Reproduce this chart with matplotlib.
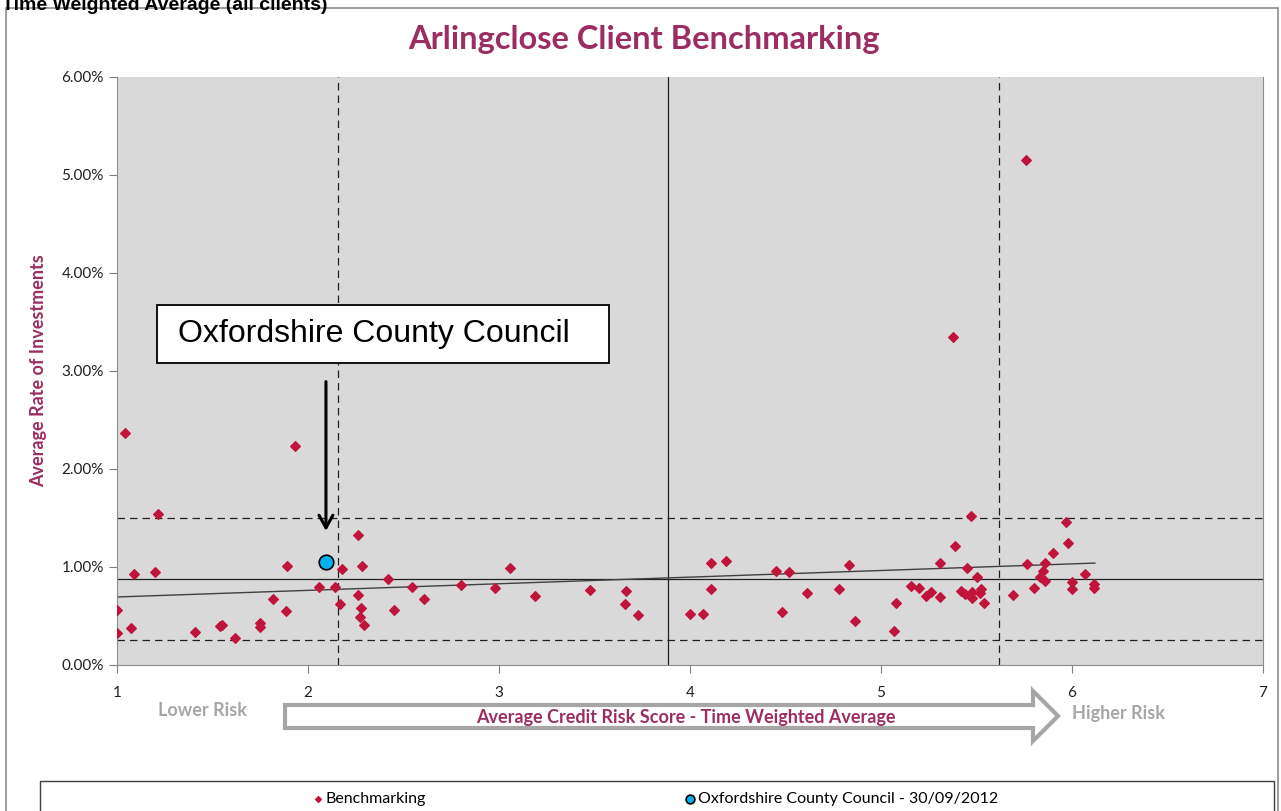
import matplotlib
matplotlib.use('Agg')
import matplotlib.pyplot as plt
from matplotlib.patches import Polygon, Rectangle
from matplotlib.ticker import PercentFormatter

# ── Data ───────────────────────────────────────────────────────────────
bench_x = [1.04, 1.93, 1.215, 2.26, 1.89, 2.18, 2.285, 1.09, 1.20, 2.42,
           2.056, 2.14, 2.26, 1.817, 2.17, 1.00, 1.886, 2.45, 2.277, 2.27,
           2.295, 1.00, 1.073, 1.41, 1.54, 1.55, 1.75, 1.75, 1.62,
           2.546, 2.607, 2.80, 2.977, 3.06, 3.19, 3.476, 3.667, 3.66, 3.73,
           4.00, 4.07, 4.11, 4.11, 4.19, 4.45, 4.48, 4.52, 4.61, 4.78, 4.83,
           4.865, 5.066, 5.078, 5.157, 5.20, 5.233, 5.26, 5.31, 5.31, 5.39,
           5.45, 5.47, 5.42, 5.44, 5.475, 5.475, 5.50, 5.525, 5.52, 5.54,
           5.69, 5.764, 5.80, 5.83, 5.846, 5.86, 5.86, 5.90, 5.97, 5.98,
           6.00, 6.00, 6.07, 6.115, 6.115, 5.76, 5.375]
bench_y = [2.37, 2.23, 1.54, 1.33, 1.01, 0.98, 1.01, 0.93, 0.945, 0.88,
           0.80, 0.80, 0.71, 0.67, 0.62, 0.565, 0.55, 0.565, 0.58, 0.487,
           0.41, 0.33, 0.38, 0.34, 0.40, 0.405, 0.43, 0.385, 0.28,
           0.80, 0.67, 0.82, 0.79, 0.99, 0.70, 0.77, 0.76, 0.62, 0.51,
           0.52, 0.52, 1.04, 0.775, 1.06, 0.96, 0.54, 0.945, 0.73, 0.78, 1.02,
           0.445, 0.35, 0.63, 0.81, 0.79, 0.70, 0.745, 0.69, 1.04, 1.21,
           0.99, 1.52, 0.755, 0.725, 0.74, 0.68, 0.90, 0.775, 0.73, 0.63,
           0.71, 1.03, 0.79, 0.90, 0.96, 1.04, 0.86, 1.14, 1.46, 1.24,
           0.85, 0.775, 0.93, 0.83, 0.79, 5.15, 3.35]

occ_x = [2.094]
occ_y = [1.05]

trend_x = [1.0, 6.12]
trend_y = [0.694, 1.04]

mean_y = 0.878
band_y = [0.255, 1.50]
mean_x = 3.885
band_x = [2.157, 5.618]

x_ticks = [1, 2, 3, 4, 5, 6, 7]
y_ticks = [0, 1, 2, 3, 4, 5, 6]

MAROON = '#9B2D62'
POINT = '#C0143C'
W, H = 1281, 811

fig = plt.figure(figsize=(W / 100, H / 100), dpi=100)
plt.rcParams['font.family'] = ['Lato', 'DejaVu Sans']


def fx(px):
    return px / W


def fy(py):
    return 1 - py / H


# outer chart frame
fig.patches.append(Rectangle((fx(6), fy(830)), fx(1278) - fx(6), fy(8) - fy(830),
                             transform=fig.transFigure, fill=False,
                             edgecolor='#8C8C8C', lw=1.2))
# heading above the chart (mostly off the top edge, as in the source)
fig.text(fx(2), fy(5), 'Time Weighted Average (all clients)', ha='left', va='center',
         fontsize=14, fontweight='bold', family=['Liberation Sans', 'DejaVu Sans'])

ax = fig.add_axes([fx(117), fy(665), fx(1263) - fx(117), fy(77) - fy(665)])
ax.set_facecolor('#D9D9D9')
ax.set_xlim(1, 7)
ax.set_ylim(0, 6)
ax.set_xticks(x_ticks)
ax.set_yticks(y_ticks)
ax.yaxis.set_major_formatter(PercentFormatter(decimals=2))
ax.tick_params(colors='#808080', labelcolor='#202020', labelsize=11,
               direction='out', length=6)
ax.tick_params(axis='x', pad=9)
for s in ax.spines.values():
    s.set_color('#8C8C8C')
ax.spines['top'].set_visible(False)

# reference lines
ax.axhline(mean_y, color='#202020', lw=0.9, zorder=1)
for v in band_y:
    ax.axhline(v, color='#202020', lw=0.9, ls=(0, (6, 4)), zorder=1)
ax.axvline(mean_x, color='#202020', lw=0.9, zorder=1)
for v in band_x:
    ax.axvline(v, color='#202020', lw=0.9, ls=(0, (6, 4)), zorder=1)
ax.plot(trend_x, trend_y, color='#404040', lw=1.0, zorder=2)

ax.scatter(bench_x, bench_y, marker='D', s=24, color=POINT, zorder=3,
           label='Benchmarking')
ax.scatter(occ_x, occ_y, marker='o', s=110, color='#00B0F0', edgecolor='black',
           linewidth=1.2, zorder=4, label='Oxfordshire County Council - 30/09/2012')

ax.set_ylabel('Average Rate of Investments', color=MAROON, fontsize=13,
              fontweight='bold', labelpad=10)

# title
fig.text(fx(644), fy(40), 'Arlingclose Client Benchmarking', ha='center',
         va='center', fontsize=23.5, fontweight='bold', color=MAROON)

# callout box and arrow
fig.patches.append(Rectangle((fx(157), fy(363)), fx(609) - fx(157), fy(305) - fy(363),
                             transform=fig.transFigure, facecolor='white',
                             edgecolor='black', lw=1.3, zorder=5))
fig.text(fx(178), fy(334), 'Oxfordshire County Council', ha='left', va='center',
         fontsize=23, family=['Liberation Sans', 'DejaVu Sans'], zorder=6)
ax.annotate('', xy=(occ_x[0], 1.34), xytext=(occ_x[0], 2.92),
            arrowprops=dict(arrowstyle='->,head_width=0.5,head_length=0.9',
                            color='black', lw=2.2))

# risk arrow under x axis
arrow_pts = [(285, 705), (1033, 705), (1033, 691), (1058, 716), (1033, 741),
             (1033, 728), (285, 728)]
fig.patches.append(Polygon([(fx(a), fy(b)) for a, b in arrow_pts], closed=True,
                           transform=fig.transFigure, facecolor='white',
                           edgecolor='#A6A6A6', lw=3))
fig.text(fx(686), fy(718), 'Average Credit Risk Score - Time Weighted Average',
         ha='center', va='center', fontsize=13, fontweight='bold', color=MAROON)
fig.text(fx(202), fy(711), 'Lower Risk', ha='center', va='center', fontsize=13,
         fontweight='bold', color='#A6A6A6')
fig.text(fx(1119), fy(713), 'Higher Risk', ha='center', va='center', fontsize=13,
         fontweight='bold', color='#A6A6A6')

# legend
fig.patches.append(Rectangle((fx(40), fy(830)), fx(1274) - fx(40), fy(781) - fy(830),
                             transform=fig.transFigure, fill=False,
                             edgecolor='#404040', lw=1.0))
fig.legend(loc='center', bbox_to_anchor=(fx(654), fy(799)), ncol=2, frameon=False,
           fontsize=11.5, handletextpad=0.0, handlelength=1.0, columnspacing=16,
           markerscale=0.6, borderaxespad=0)

fig.savefig('out.png', dpi=100, facecolor='white')
